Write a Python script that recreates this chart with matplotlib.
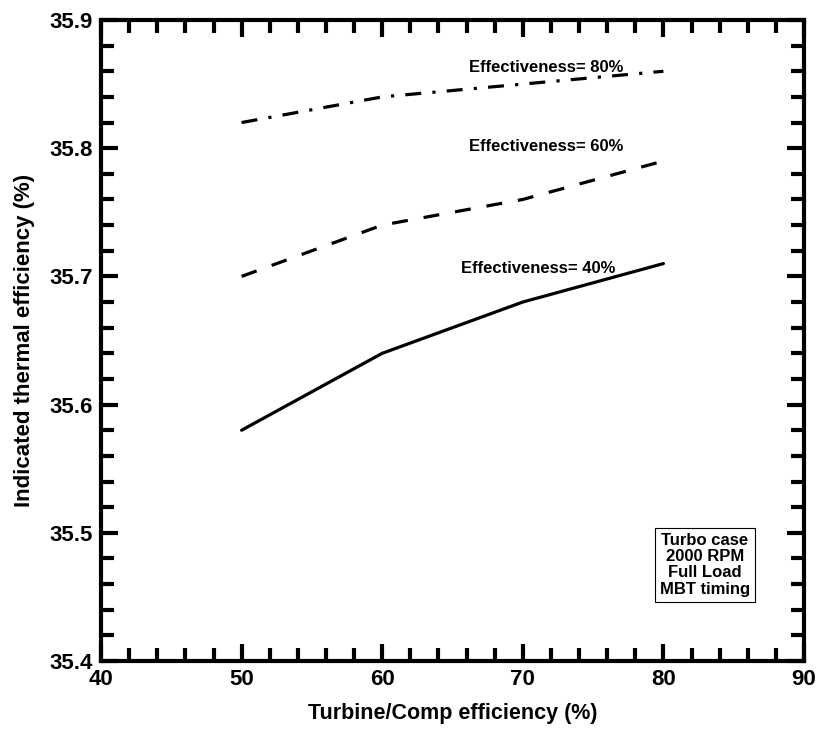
import matplotlib
matplotlib.use("Agg")
import matplotlib.pyplot as plt
from matplotlib.ticker import MultipleLocator, FormatStrFormatter

plt.rcParams['font.family'] = ['Liberation Sans', 'DejaVu Sans']
plt.rcParams['font.weight'] = 'bold'

x = [50, 60, 70, 80]
eff40 = [35.58, 35.64, 35.68, 35.71]
eff60 = [35.70, 35.74, 35.76, 35.79]
eff80 = [35.82, 35.84, 35.85, 35.86]
labels = ["Effectiveness= 40%", "Effectiveness= 60%", "Effectiveness= 80%"]
box_text = "Turbo case\n2000 RPM\nFull Load\nMBT timing"

fig = plt.figure(figsize=(8.18, 7.29), dpi=100)
ax = fig.add_axes([0.1235, 0.0933, 0.9829 - 0.1235, 0.9726 - 0.0933])

ax.plot(x, eff40, color='black', lw=2.3, solid_capstyle='round')
ax.plot(x, eff60, color='black', lw=2.3, dashes=(5, 5))
ax.plot(x, eff80, color='black', lw=2.3, dashes=(5, 3.5, 1, 3.5))

ax.text(71.1, 35.706, labels[0], fontsize=12, ha='center', va='center', fontweight='bold')
ax.text(71.65, 35.801, labels[1], fontsize=12, ha='center', va='center', fontweight='bold')
ax.text(71.65, 35.863, labels[2], fontsize=12, ha='center', va='center', fontweight='bold')
ax.text(82.95, 35.475, box_text, fontsize=12, ha='center', va='center', fontweight='bold',
        linespacing=1.1,
        bbox=dict(boxstyle='square,pad=0.3', fc='white', ec='black', lw=0.8))

ax.set_xlim(40, 90)
ax.set_ylim(35.4, 35.9)
ax.xaxis.set_major_locator(MultipleLocator(10))
ax.xaxis.set_minor_locator(MultipleLocator(2))
ax.yaxis.set_major_locator(MultipleLocator(0.1))
ax.yaxis.set_minor_locator(MultipleLocator(0.02))
ax.yaxis.set_major_formatter(FormatStrFormatter('%.1f'))

for s in ax.spines.values():
    s.set_linewidth(3)
ax.tick_params(which='both', direction='in', top=True, right=True, width=3,
               labelsize=16, pad=6)
ax.tick_params(which='major', length=12)
ax.tick_params(which='minor', length=9.5)
for lab in ax.get_xticklabels() + ax.get_yticklabels():
    lab.set_fontweight('bold')

ax.set_xlabel("Turbine/Comp efficiency (%)", fontsize=15.5, fontweight='bold', labelpad=9)
ax.set_ylabel("Indicated thermal efficiency (%)", fontsize=16, fontweight='bold', labelpad=10)

fig.savefig("out.png", dpi=100)
